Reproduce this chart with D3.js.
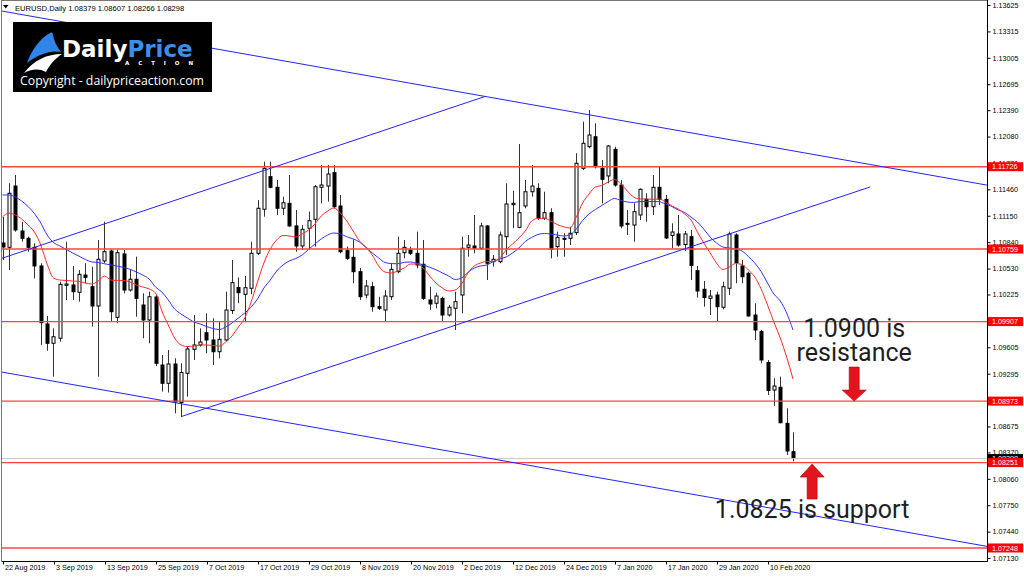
<!DOCTYPE html>
<html>
<head>
<meta charset="utf-8">
<script src="https://cdn.jsdelivr.net/npm/d3@7"></script>
<style>
    body { margin: 0; background: #ffffff; }
    svg { display: block; }
    .axis text { font-family: "Liberation Sans", Arial, sans-serif; font-size: 7.2px; fill: #000; }
    .axis line { stroke: #000; }
</style>
</head>
<body>
<div id="chart"></div>
<script>
// EURUSD daily bars, 22 Aug 2019 .. 14 Feb 2020
const opens = [
    1.10830, 1.10779, 1.11499, 1.10971, 1.10885, 1.10779, 1.10560, 1.09879, 1.09652, 1.09711,
    1.10333, 1.10337, 1.10251, 1.10454, 1.10317, 1.10090, 1.10619, 1.10736, 1.09957, 1.10701,
    1.10278, 1.10404, 1.10102, 1.09926, 1.10196, 1.09397, 1.09182, 1.09409, 1.08957, 1.09300,
    1.09581, 1.09632, 1.09776, 1.09691, 1.09553, 1.09691, 1.10037, 1.10307, 1.10227, 1.10298,
    1.10709, 1.11226, 1.11609, 1.11484, 1.11238, 1.11296, 1.11030, 1.10795, 1.11003, 1.11108,
    1.11484, 1.11499, 1.11656, 1.11265, 1.10740, 1.10662, 1.10493, 1.10219, 1.10317, 1.10082,
    1.10043, 1.10199, 1.10493, 1.10716, 1.10748, 1.10709, 1.10580, 1.10161, 1.10122, 1.10180,
    1.09984, 1.10063, 1.10219, 1.10779, 1.10795, 1.10768, 1.11030, 1.10610, 1.10610, 1.10904,
    1.11280, 1.11014, 1.11265, 1.11432, 1.11472, 1.11120, 1.11186, 1.10787, 1.10885, 1.10885,
    1.10951, 1.11707, 1.11961, 1.12078, 1.11707, 1.11617, 1.11930, 1.11511, 1.11061, 1.11041,
    1.11159, 1.11343, 1.11256, 1.11484, 1.11343, 1.10918, 1.10936, 1.10812, 1.10904, 1.10505,
    1.10286, 1.10180, 1.10219, 1.10075, 1.10298, 1.10924, 1.10560, 1.10474, 1.09984, 1.09788,
    1.09426, 1.09103, 1.09135, 1.08712, 1.08379
];
const highs = [
    1.11135, 1.11531, 1.11629, 1.11080, 1.10904, 1.10826, 1.10592, 1.09973, 1.09828, 1.10375,
    1.10845, 1.10560, 1.10513, 1.10592, 1.10552, 1.10865, 1.11080, 1.10756, 1.10748, 1.10748,
    1.10513, 1.10669, 1.10239, 1.10258, 1.10219, 1.09515, 1.09573, 1.09476, 1.09417, 1.09620,
    1.09984, 1.09828, 1.10004, 1.09946, 1.09906, 1.10258, 1.10630, 1.10425, 1.10442, 1.10845,
    1.11335, 1.11785, 1.11785, 1.11570, 1.11374, 1.11629, 1.11218, 1.11041, 1.11198, 1.11511,
    1.11746, 1.11746, 1.11746, 1.11394, 1.10787, 1.10873, 1.10536, 1.10395, 1.10375, 1.10199,
    1.10278, 1.10592, 1.10904, 1.10865, 1.10787, 1.10963, 1.10865, 1.10317, 1.10246, 1.10199,
    1.10102, 1.10258, 1.10904, 1.10924, 1.11159, 1.11068, 1.11041, 1.10689, 1.10963, 1.11531,
    1.11444, 1.11993, 1.11570, 1.11746, 1.11531, 1.11432, 1.11238, 1.10963, 1.10944, 1.11021,
    1.11884, 1.12255, 1.12392, 1.12236, 1.11805, 1.11981, 1.11961, 1.11570, 1.11218, 1.11296,
    1.11472, 1.11414, 1.11629, 1.11726, 1.11394, 1.11061, 1.11159, 1.10971, 1.10983, 1.10560,
    1.10384, 1.10278, 1.10258, 1.10375, 1.10963, 1.10944, 1.10630, 1.10493, 1.10122, 1.09808,
    1.09456, 1.09241, 1.09260, 1.08889, 1.08607
];
const lows = [
    1.10630, 1.10513, 1.10963, 1.10845, 1.10728, 1.10415, 1.09632, 1.09565, 1.09260, 1.09671,
    1.10160, 1.10160, 1.10141, 1.10357, 1.09847, 1.09260, 1.10592, 1.09906, 1.09887, 1.10239,
    1.10258, 1.09964, 1.09711, 1.09652, 1.09385, 1.09084, 1.09074, 1.08830, 1.08790, 1.09025,
    1.09456, 1.09612, 1.09534, 1.09397, 1.09476, 1.09671, 1.09996, 1.10122, 1.09906, 1.10229,
    1.10689, 1.11139, 1.11472, 1.11159, 1.11159, 1.11021, 1.10728, 1.10748, 1.10748, 1.10787,
    1.11296, 1.11315, 1.11238, 1.10709, 1.10630, 1.10357, 1.10161, 1.10180, 1.10023, 1.10043,
    1.09906, 1.10161, 1.10474, 1.10650, 1.10689, 1.10533, 1.10161, 1.10043, 1.10063, 1.09906,
    1.09964, 1.09808, 1.10004, 1.10669, 1.10709, 1.10748, 1.10395, 1.10552, 1.10592, 1.10689,
    1.11003, 1.11003, 1.11238, 1.11374, 1.11100, 1.11100, 1.10650, 1.10669, 1.10669, 1.10806,
    1.10924, 1.11687, 1.11942, 1.11707, 1.11296, 1.11531, 1.11491, 1.11003, 1.10924, 1.10845,
    1.11100, 1.11080, 1.11159, 1.11276, 1.10877, 1.10768, 1.10787, 1.10736, 1.10395, 1.10190,
    1.10082, 1.09984, 1.09906, 1.10051, 1.10219, 1.10357, 1.10357, 1.09964, 1.09691, 1.09417,
    1.09045, 1.08916, 1.08712, 1.08340, 1.08266
];
const closes = [
    1.10783, 1.11414, 1.10983, 1.10885, 1.10779, 1.10560, 1.09894, 1.09652, 1.09729, 1.10345,
    1.10348, 1.10258, 1.10462, 1.10427, 1.10090, 1.10639, 1.10728, 1.10023, 1.10716, 1.10278,
    1.10404, 1.10180, 1.09926, 1.10199, 1.09417, 1.09182, 1.09409, 1.08963, 1.09309, 1.09585,
    1.09632, 1.09667, 1.09691, 1.09553, 1.09699, 1.10043, 1.10364, 1.10246, 1.10305, 1.10709,
    1.11238, 1.11707, 1.11484, 1.11238, 1.11303, 1.11030, 1.10795, 1.10991, 1.11092, 1.11491,
    1.11511, 1.11640, 1.11256, 1.10728, 1.10650, 1.10493, 1.10199, 1.10325, 1.10082, 1.10063,
    1.10207, 1.10521, 1.10709, 1.10779, 1.10709, 1.10572, 1.10180, 1.10114, 1.10207, 1.09984,
    1.10075, 1.10141, 1.10768, 1.10806, 1.10768, 1.11030, 1.10592, 1.10639, 1.10924, 1.11288,
    1.11296, 1.11186, 1.11432, 1.11499, 1.11120, 1.11186, 1.10756, 1.10897, 1.10873, 1.10944,
    1.11766, 1.12001, 1.12098, 1.11726, 1.11578, 1.11969, 1.11511, 1.11030, 1.11050, 1.11198,
    1.11461, 1.11256, 1.11484, 1.11343, 1.10889, 1.10959, 1.10806, 1.10936, 1.10566, 1.10266,
    1.10190, 1.10207, 1.10082, 1.10317, 1.10936, 1.10599, 1.10434, 1.09973, 1.09808, 1.09456,
    1.09098, 1.09150, 1.08719, 1.08387, 1.08298
];

// moving averages as drawn on the chart (red = fast, blue = slow)
const maFast = [
    1.11135, 1.11182, 1.11159, 1.11112, 1.11041, 1.10959, 1.10806, 1.10583, 1.10419, 1.10395,
    1.10390, 1.10384, 1.10378, 1.10360, 1.10348, 1.10384, 1.10442, 1.10395, 1.10390, 1.10390,
    1.10372, 1.10337, 1.10313, 1.10290, 1.10243, 1.10031, 1.09867, 1.09714, 1.09632, 1.09614,
    1.09620, 1.09632, 1.09632, 1.09626, 1.09620, 1.09667, 1.09738, 1.09843, 1.09949, 1.10137,
    1.10372, 1.10595, 1.10760, 1.10865, 1.10918, 1.10912, 1.10900, 1.10936, 1.10983, 1.11053,
    1.11147, 1.11206, 1.11241, 1.11182, 1.11088, 1.10971, 1.10853, 1.10783, 1.10689, 1.10560,
    1.10489, 1.10478, 1.10501, 1.10536, 1.10583, 1.10583, 1.10536, 1.10442, 1.10360, 1.10301,
    1.10266, 1.10278, 1.10348, 1.10478, 1.10560, 1.10595, 1.10613, 1.10613, 1.10654, 1.10748,
    1.10818, 1.10889, 1.10971, 1.11088, 1.11118, 1.11120, 1.11088, 1.11047, 1.11021, 1.11006,
    1.11135, 1.11300, 1.11405, 1.11488, 1.11505, 1.11546, 1.11576, 1.11523, 1.11441, 1.11370,
    1.11347, 1.11347, 1.11343, 1.11347, 1.11312, 1.11265, 1.11229, 1.11171, 1.11100, 1.10959,
    1.10830, 1.10713, 1.10595, 1.10519, 1.10548, 1.10589, 1.10577, 1.10513, 1.10431, 1.10290,
    1.10102, 1.09902, 1.09714, 1.09491, 1.09233
];
const maSlow = [
    1.11394, 1.11394, 1.11370, 1.11323, 1.11259, 1.11176, 1.11065, 1.10924, 1.10836, 1.10795,
    1.10754, 1.10713, 1.10675, 1.10636, 1.10607, 1.10601, 1.10586, 1.10572, 1.10558, 1.10542,
    1.10521, 1.10489, 1.10454, 1.10407, 1.10313, 1.10254, 1.10161, 1.10055, 1.09996, 1.09949,
    1.09902, 1.09879, 1.09849, 1.09826, 1.09814, 1.09843, 1.09890, 1.09949, 1.10008, 1.10078,
    1.10172, 1.10301, 1.10395, 1.10501, 1.10572, 1.10619, 1.10648, 1.10689, 1.10754, 1.10818,
    1.10877, 1.10924, 1.10947, 1.10936, 1.10904, 1.10877, 1.10842, 1.10777, 1.10713, 1.10654,
    1.10601, 1.10588, 1.10586, 1.10603, 1.10607, 1.10592, 1.10572, 1.10545, 1.10516, 1.10478,
    1.10442, 1.10401, 1.10419, 1.10484, 1.10536, 1.10560, 1.10572, 1.10613, 1.10642, 1.10666,
    1.10713, 1.10771, 1.10848, 1.10895, 1.10930, 1.10942, 1.10936, 1.10924, 1.10912, 1.10924,
    1.10994, 1.11094, 1.11171, 1.11223, 1.11270, 1.11317, 1.11353, 1.11329, 1.11312, 1.11306,
    1.11317, 1.11317, 1.11317, 1.11315, 1.11288, 1.11259, 1.11218, 1.11188, 1.11135, 1.11077,
    1.10994, 1.10900, 1.10830, 1.10783, 1.10771, 1.10760, 1.10736, 1.10671, 1.10595, 1.10495,
    1.10360, 1.10231, 1.10149, 1.10008, 1.09808
];

// x axis: a date label every 8 bars
const dateTickBars = [0, 8, 16, 24, 32, 40, 48, 56, 64, 72, 80, 88, 96, 104, 112, 120];
const dateLabels = [
    "22 Aug 2019", "3 Sep 2019", "13 Sep 2019", "25 Sep 2019", "7 Oct 2019", "17 Oct 2019",
    "29 Oct 2019", "8 Nov 2019", "20 Nov 2019", "2 Dec 2019", "12 Dec 2019", "24 Dec 2019",
    "7 Jan 2020", "17 Jan 2020", "29 Jan 2020", "10 Feb 2020"
];

// price axis ticks
const priceTicks = [
    1.13625, 1.13315, 1.13005, 1.12695, 1.12390, 1.12080, 1.11770, 1.11460, 1.11150, 1.10840,
    1.10530, 1.10225, 1.09915, 1.09605, 1.09295, 1.08985, 1.08675, 1.08370, 1.08060, 1.07750,
    1.07440, 1.07130
];

// horizontal support / resistance levels
const levels = [1.11726, 1.10759, 1.09907, 1.08973, 1.08251, 1.07248];
const lastPrice = 1.08298;

// trend lines: [bar1, price1, bar2, price2]
const trendLines = [
    [-0.4, 1.13558, 160, 1.11436],
    [-0.4, 1.09318, 160, 1.07193],
    [-0.4, 1.10643, 75.7, 1.12551],
    [28, 1.08790, 136.1, 1.11488]
];

class CandleChart {

    constructor(_parentElement) {
        this.parentElement = _parentElement;
        this.initVis();
    }

    initVis() {
        let vis = this;

        vis.width = 1024;
        vis.height = 577;
        // plot area (price axis sits on the right, dates at the bottom)
        vis.plot = { left: 2, top: 1, right: 987, bottom: 561 };

        vis.svg = d3.select("#" + vis.parentElement).append("svg")
            .attr("width", vis.width)
            .attr("height", vis.height)
            .style("font-family", "'Liberation Sans', Arial, sans-serif");

        vis.svg.append("rect")
            .attr("width", vis.width)
            .attr("height", vis.height)
            .attr("fill", "#ffffff");

        vis.svg.append("clipPath")
            .attr("id", "plot-clip")
            .append("rect")
            .attr("x", vis.plot.left)
            .attr("y", vis.plot.top)
            .attr("width", vis.plot.right - vis.plot.left)
            .attr("height", vis.plot.bottom - vis.plot.top);

        // scales: bar index -> x, price -> y
        vis.x = d3.scaleLinear()
            .domain([0, 124])
            .range([2.5, 793]);

        vis.y = d3.scaleLinear()
            .domain([1.07095, 1.13684])
            .range([vis.plot.bottom, 0]);

        vis.plotArea = vis.svg.append("g").attr("clip-path", "url(#plot-clip)");

        vis.wrangleData();
    }

    wrangleData() {
        let vis = this;

        vis.bars = opens.map((o, i) => ({
            i: i,
            open: o,
            high: highs[i],
            low: lows[i],
            close: closes[i],
            up: closes[i] >= o
        }));

        vis.updateVis();
    }

    updateVis() {
        let vis = this;
        const px = i => Math.round(vis.x(i)) + 0.5;

        // candles
        const candles = vis.plotArea.append("g").attr("class", "candles");

        candles.selectAll(".wick")
            .data(vis.bars)
            .enter()
            .append("line")
            .attr("class", "wick")
            .attr("x1", d => px(d.i))
            .attr("x2", d => px(d.i))
            .attr("y1", d => vis.y(d.high))
            .attr("y2", d => vis.y(d.low))
            .attr("stroke", "#333")
            .attr("stroke-width", 1);

        candles.selectAll(".body")
            .data(vis.bars)
            .enter()
            .append("rect")
            .attr("class", "body")
            .attr("x", d => px(d.i) - 1.5)
            .attr("width", 3)
            .attr("y", d => vis.y(Math.max(d.open, d.close)))
            .attr("height", d => Math.max(1, Math.abs(vis.y(d.open) - vis.y(d.close))))
            .attr("fill", d => d.up ? "#ffffff" : "#000000")
            .attr("stroke", "#000")
            .attr("stroke-width", 1);

        // moving averages
        const maLine = d3.line()
            .x((d, i) => vis.x(i))
            .y(d => vis.y(d))
            .curve(d3.curveMonotoneX);

        vis.plotArea.append("path")
            .datum(maSlow)
            .attr("d", maLine)
            .attr("fill", "none")
            .attr("stroke", "#3333ff")
            .attr("stroke-width", 1);

        vis.plotArea.append("path")
            .datum(maFast)
            .attr("d", maLine)
            .attr("fill", "none")
            .attr("stroke", "#ff2a2a")
            .attr("stroke-width", 1);

        // last price line
        vis.plotArea.append("line")
            .attr("x1", vis.plot.left)
            .attr("x2", vis.plot.right)
            .attr("y1", vis.y(lastPrice))
            .attr("y2", vis.y(lastPrice))
            .attr("stroke", "#c8c8c8")
            .attr("stroke-width", 1);

        // horizontal levels
        vis.plotArea.selectAll(".level")
            .data(levels)
            .enter()
            .append("line")
            .attr("class", "level")
            .attr("x1", vis.plot.left)
            .attr("x2", vis.plot.right)
            .attr("y1", d => vis.y(d))
            .attr("y2", d => vis.y(d))
            .attr("stroke", "#ff4444")
            .attr("stroke-width", 1.4);

        // trend lines
        vis.plotArea.selectAll(".trend")
            .data(trendLines)
            .enter()
            .append("line")
            .attr("class", "trend")
            .attr("x1", d => vis.x(d[0]))
            .attr("y1", d => vis.y(d[1]))
            .attr("x2", d => vis.x(d[2]))
            .attr("y2", d => vis.y(d[3]))
            .attr("stroke", "#2424ff")
            .attr("stroke-width", 1);

        vis.drawAxes();
        vis.drawPriceLabels();
        vis.drawAnnotations();
        vis.drawHeader();
    }

    drawAxes() {
        let vis = this;

        // frame
        vis.svg.append("rect")
            .attr("x", vis.plot.left - 0.5)
            .attr("y", vis.plot.top - 0.5)
            .attr("width", vis.plot.right - vis.plot.left + 1)
            .attr("height", vis.plot.bottom - vis.plot.top + 1)
            .attr("fill", "none")
            .attr("stroke", "#777")
            .attr("stroke-width", 1);

        const yAxis = d3.axisRight(vis.y)
            .tickValues(priceTicks)
            .tickFormat(d3.format(".5f"))
            .tickSize(3)
            .tickPadding(2);

        const yG = vis.svg.append("g")
            .attr("class", "axis y-axis")
            .attr("transform", "translate(" + (vis.plot.right + 0.5) + ",0)")
            .call(yAxis);
        yG.select(".domain").attr("stroke", "#000").attr("d", "M0,0V" + (vis.plot.bottom + 0.5));

        const xAxis = d3.axisBottom(vis.x)
            .tickValues(dateTickBars)
            .tickFormat((d, i) => dateLabels[i])
            .tickSize(3);

        const xG = vis.svg.append("g")
            .attr("class", "axis x-axis")
            .attr("transform", "translate(0," + (vis.plot.bottom + 0.5) + ")")
            .call(xAxis);
        xG.select(".domain").attr("stroke", "#000").attr("d", "M" + vis.plot.left + ",0H" + (vis.plot.right + 0.5));
        xG.selectAll(".tick line").attr("transform", "translate(0.5,0)");
        xG.selectAll(".tick text")
            .attr("text-anchor", "start")
            .attr("x", 2)
            .attr("y", 3)
            .attr("dy", "0.71em");
    }

    drawPriceLabels() {
        let vis = this;
        const fmt = d3.format(".5f");

        const addLabel = (price, color) => {
            const g = vis.svg.append("g")
                .attr("transform", "translate(" + (vis.plot.right + 1) + "," + vis.y(price) + ")");
            g.append("rect")
                .attr("x", 0)
                .attr("y", -4.5)
                .attr("width", 35)
                .attr("height", 9)
                .attr("fill", color);
            g.append("text")
                .attr("x", 4)
                .attr("dy", "0.35em")
                .attr("fill", "#ffffff")
                .style("font-size", "7.2px")
                .text(fmt(price));
        };

        addLabel(lastPrice, "#000000");
        levels.forEach(p => addLabel(p, "#ff0000"));
    }

    drawAnnotations() {
        let vis = this;

        const downTip = [vis.x(133.6), vis.y(levels[3])];
        const upTip = [vis.x(127.0), vis.y(levels[4]) + 1.5];

        const arrowDown = "M-5,-34L5,-34L5,-11L12,-11L0,0L-12,-11L-5,-11Z";
        const arrowUp = "M-5,35L5,35L5,13L12,13L0,0L-12,13L-5,13Z";

        vis.svg.append("path")
            .attr("transform", "translate(" + downTip[0] + "," + downTip[1] + ")")
            .attr("d", arrowDown)
            .attr("fill", "#e3141c")
            .attr("stroke", "#b00000")
            .attr("stroke-width", 0.6);

        vis.svg.append("path")
            .attr("transform", "translate(" + upTip[0] + "," + upTip[1] + ")")
            .attr("d", arrowUp)
            .attr("fill", "#e3141c")
            .attr("stroke", "#b00000")
            .attr("stroke-width", 0.6);

        const noteStyle = t => t
            .attr("text-anchor", "middle")
            .attr("fill", "#1e1e1e")
            .style("font-family", "Roboto, 'Noto Sans', sans-serif")
            .style("font-size", "25px");

        vis.svg.append("text")
            .attr("x", downTip[0])
            .attr("y", downTip[1] - 64)
            .call(noteStyle)
            .text("1.0900 is");

        vis.svg.append("text")
            .attr("x", downTip[0])
            .attr("y", downTip[1] - 40)
            .call(noteStyle)
            .text("resistance");

        vis.svg.append("text")
            .attr("x", upTip[0])
            .attr("y", upTip[1] + 54)
            .call(noteStyle)
            .text("1.0825 is support");
    }

    drawHeader() {
        let vis = this;

        // chart caption
        vis.svg.append("path")
            .attr("d", "M3,5L8.5,5L5.75,8.5Z")
            .attr("fill", "#000");

        vis.svg.append("text")
            .attr("x", 15)
            .attr("y", 10.5)
            .attr("fill", "#000")
            .style("font-size", "7.6px")
            .text("EURUSD,Daily  1.08379 1.08607 1.08266 1.08298");

        // logo box
        const logo = vis.svg.append("g").attr("class", "logo");

        logo.append("rect")
            .attr("x", 13)
            .attr("y", 22)
            .attr("width", 199)
            .attr("height", 70)
            .attr("fill", "#000");

        logo.append("path")
            .attr("d", "M27,63C31,52 38,40 50,33C52,32 53,33 53,35C54,41 57,47 61,52C51,50 39,54 27,63Z")
            .attr("fill", "#2f86e8");

        logo.append("path")
            .attr("d", "M24,73C34,60 47,54 62,54C56,58 50,64 46,72C39,68 31,69 24,73Z")
            .attr("fill", "#ffffff");

        const brand = logo.append("text")
            .attr("x", 62)
            .attr("y", 57)
            .style("font-family", "'DejaVu Sans', sans-serif")
            .style("font-weight", "bold")
            .style("font-size", "23px");
        brand.append("tspan").attr("fill", "#ffffff").text("Daily");
        brand.append("tspan").attr("fill", "#3a8fe6").text("Price");

        logo.append("text")
            .attr("x", 125)
            .attr("y", 65)
            .attr("textLength", 68)
            .attr("lengthAdjust", "spacing")
            .attr("fill", "#ffffff")
            .style("font-family", "'DejaVu Sans', sans-serif")
            .style("font-weight", "bold")
            .style("font-size", "5.5px")
            .text("ACTION");

        logo.append("text")
            .attr("x", 20)
            .attr("y", 85)
            .attr("textLength", 184)
            .attr("lengthAdjust", "spacingAndGlyphs")
            .attr("fill", "#ffffff")
            .style("font-family", "'Open Sans', 'Noto Sans', sans-serif")
            .style("font-size", "12.5px")
            .text("Copyright - dailypriceaction.com");
    }
}

new CandleChart("chart");
</script>
</body>
</html>
